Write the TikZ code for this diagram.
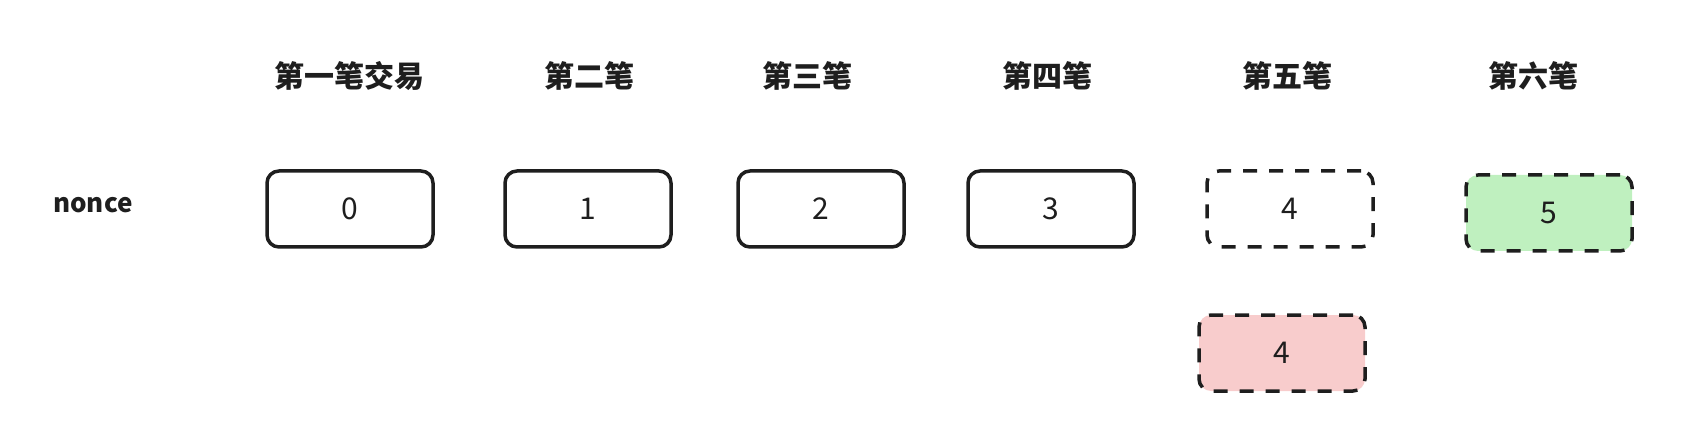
\documentclass[tikz,border=0pt]{standalone}
\usepackage{fontspec}
\setmainfont{Noto Sans CJK SC}
\definecolor{lg}{HTML}{BFF0BF}
\definecolor{lr}{HTML}{F8CCCC}
\definecolor{ink}{HTML}{1E1E1E}
\begin{document}
\begin{tikzpicture}[x=1pt,y=-1pt,
 hdr/.style={font=\fontsize{30}{34}\selectfont\bfseries, text=ink},
 cell/.style={draw=ink, line width=3.5pt, rounded corners=12pt, minimum width=166pt, minimum height=76pt, font=\fontsize{30}{34}\selectfont, text=ink},
 dcell/.style={cell, dash pattern=on 14pt off 12pt}]
\useasboundingbox (0,0) rectangle (1702,438);
\node[hdr] (h1) at (349,76) {第一笔交易};
\node[hdr] (h2) at (589,76) {第二笔};
\node[hdr] (h3) at (807,76) {第三笔};
\node[hdr] (h4) at (1047,76) {第四笔};
\node[hdr] (h5) at (1287,76) {第五笔};
\node[hdr] (h6) at (1533,76) {第六笔};
\node[font=\fontsize{26}{30}\selectfont\bfseries, text=ink] (nonce) at (93,205) {nonce};
\node[cell] (b0) at (350,209) {0};
\node[cell] (b1) at (588,209) {1};
\node[cell] (b2) at (821,209) {2};
\node[cell] (b3) at (1051,209) {3};
\node[dcell] (b4) at (1290,209) {4};
\node[dcell, fill=lg] (b5) at (1549,213) {5};
\node[dcell, fill=lr] (b4r) at (1282,353) {4};
\end{tikzpicture}
\end{document}
